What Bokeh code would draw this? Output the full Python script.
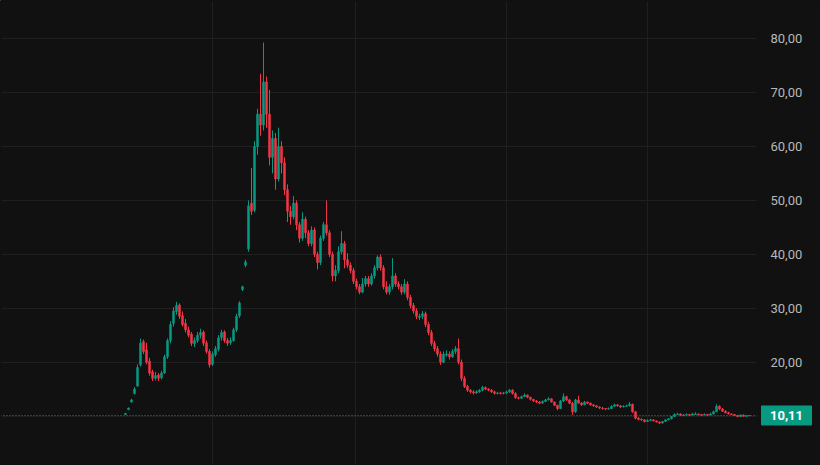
from bokeh.plotting import figure
from bokeh.models import (Range1d, FixedTicker, CustomJSTickFormatter, Span,
                          Grid, ColumnDataSource)
from bokeh.core.properties import value
from bokeh.embed import file_html
from bokeh.resources import INLINE

opens = [10.3, 11.2, 12.6, 14.2, 15.6, 19.5, 23.8, 22.3, 20.2, 18.2,
         17.0, 17.6, 17.1, 18.0, 21.0, 24.0, 27.2, 29.4, 30.6, 28.6,
         27.2, 26.0, 25.2, 23.4, 24.0, 25.0, 25.6, 23.6, 22.0, 19.6,
         21.4, 22.4, 24.6, 25.6, 24.0, 23.6, 24.0, 26.0, 28.6, 33.5,
         38.0, 41.0, 49.5, 48.2, 60.0, 66.0, 64.0, 72.0, 66.0, 58.0,
         61.5, 54.0, 60.0, 57.0, 52.0, 48.0, 47.0, 49.5, 45.5, 43.0,
         46.5, 44.0, 42.0, 44.5, 40.0, 38.5, 43.0, 45.5, 44.0, 40.0,
         36.0, 37.0, 40.5, 42.0, 39.0, 38.0, 37.0, 35.0, 34.0, 33.0,
         34.5, 35.5, 34.5, 36.0, 37.5, 39.5, 37.5, 34.0, 33.0, 34.0,
         36.0, 34.5, 34.0, 33.0, 34.5, 32.0, 30.5, 29.5, 28.3, 28.5,
         29.0, 27.0, 25.5, 23.5, 22.5, 21.5, 20.0, 21.3, 21.5, 21.0,
         22.0, 22.5, 20.0, 17.0, 15.5, 14.8, 14.5, 14.3, 14.5, 14.8,
         15.3, 15.0, 14.8, 14.5, 14.2, 14.3, 14.2, 14.3, 14.5, 14.8,
         14.2, 13.4, 13.3, 13.6, 13.9, 13.5, 13.1, 12.8, 12.6, 12.4,
         12.7, 13.0, 13.2, 12.6, 12.0, 11.4, 12.8, 13.6, 13.0, 12.4,
         10.8, 13.0, 12.4, 12.1, 12.6, 12.4, 12.1, 11.9, 11.7, 11.5,
         11.4, 11.3, 11.4, 11.8, 12.1, 11.9, 11.7, 11.8, 11.9, 12.2,
         10.8, 9.6, 9.4, 9.3, 9.0, 9.2, 9.3, 9.1, 8.9, 8.7,
         9.0, 9.3, 9.5, 9.9, 10.3, 10.4, 10.1, 10.2, 10.3, 10.2,
         10.3, 10.4, 10.3, 10.2, 10.3, 10.2, 10.4, 10.8, 11.8, 11.3,
         10.9, 10.6, 10.4, 10.3, 10.1, 9.9, 10.2, 9.95, 10.05]

highs = [10.6, 11.6, 13.2, 15.4, 19.6, 24.4, 24.2, 23.6, 20.8, 18.6,
         18.2, 18.0, 18.4, 21.4, 24.4, 27.6, 30.2, 31.2, 30.9, 29.4,
         28.0, 26.6, 25.6, 24.6, 25.6, 26.2, 25.9, 24.0, 22.4, 22.0,
         23.0, 25.0, 26.0, 25.9, 24.5, 24.6, 26.4, 29.0, 31.3, 34.2,
         39.0, 50.0, 56.0, 61.0, 67.0, 73.5, 79.3, 73.0, 70.5, 63.0,
         62.5, 63.5, 61.0, 58.0, 53.0, 49.0, 50.8, 50.0, 46.0, 47.8,
         47.0, 44.5, 45.2, 45.0, 40.5, 43.5, 46.0, 50.0, 44.5, 40.5,
         38.0, 41.5, 44.3, 42.5, 40.2, 38.5, 37.5, 35.5, 34.5, 35.6,
         36.0, 36.0, 36.5, 38.0, 39.8, 40.0, 38.0, 35.0, 34.5, 39.3,
         36.5, 35.0, 34.5, 35.4, 35.0, 32.5, 31.0, 30.0, 29.0, 29.5,
         29.4, 27.5, 26.0, 24.0, 23.0, 22.0, 22.0, 22.2, 22.0, 22.4,
         23.0, 24.4, 20.5, 17.4, 15.8, 15.0, 14.8, 14.8, 15.0, 15.6,
         15.5, 15.2, 15.0, 14.7, 14.5, 14.5, 14.5, 14.7, 15.0, 15.0,
         14.4, 13.6, 13.8, 14.2, 14.0, 13.6, 13.2, 13.0, 12.8, 12.9,
         13.2, 13.5, 13.3, 12.7, 12.1, 13.0, 14.2, 13.8, 13.2, 12.6,
         13.2, 13.8, 12.6, 12.8, 12.7, 12.5, 12.2, 12.0, 11.8, 11.7,
         11.5, 11.6, 12.0, 12.3, 12.2, 12.0, 12.0, 12.1, 12.6, 12.3,
         10.9, 9.8, 9.6, 9.4, 9.4, 9.5, 9.4, 9.2, 9.0, 9.1,
         9.4, 9.6, 10.0, 10.5, 10.6, 10.5, 10.4, 10.5, 10.4, 10.6,
         10.7, 10.5, 10.4, 10.5, 10.4, 10.6, 11.0, 12.2, 12.0, 11.5,
         11.1, 10.8, 10.5, 10.4, 10.2, 10.3, 10.3, 10.2, 10.2]

lows = [10.2, 11.1, 12.5, 14.0, 15.4, 19.2, 21.5, 19.6, 17.5, 16.5,
        16.6, 16.5, 16.8, 17.8, 20.6, 23.5, 26.6, 28.8, 28.0, 26.6,
        25.5, 24.6, 23.0, 22.8, 23.6, 24.4, 23.0, 21.6, 19.0, 19.3,
        21.0, 22.0, 24.0, 23.6, 23.0, 23.2, 23.8, 25.6, 28.2, 33.2,
        37.6, 40.5, 47.3, 47.8, 58.5, 62.0, 63.0, 63.5, 56.5, 55.0,
        52.0, 53.5, 55.0, 51.0, 46.0, 45.5, 46.5, 44.5, 42.2, 42.5,
        43.0, 41.5, 41.5, 39.5, 37.2, 38.0, 42.5, 43.5, 39.5, 35.0,
        35.0, 36.5, 40.0, 37.4, 37.5, 36.5, 34.5, 33.5, 32.6, 32.8,
        34.0, 34.0, 34.2, 35.5, 37.0, 37.0, 33.5, 32.6, 32.5, 33.5,
        34.0, 33.5, 32.5, 32.6, 31.5, 30.0, 29.0, 28.0, 27.8, 28.0,
        26.5, 25.0, 23.0, 22.0, 21.0, 19.5, 19.8, 21.0, 20.5, 20.8,
        21.5, 19.6, 16.5, 15.2, 14.5, 14.2, 14.0, 14.1, 14.3, 14.6,
        14.8, 14.6, 14.3, 14.0, 14.0, 14.0, 14.0, 14.1, 14.3, 14.0,
        13.2, 13.1, 13.2, 13.5, 13.3, 12.9, 12.6, 12.4, 12.2, 12.3,
        12.6, 12.9, 12.5, 11.9, 11.1, 11.3, 12.6, 12.8, 12.2, 10.2,
        10.6, 12.3, 11.9, 12.0, 12.2, 11.9, 11.7, 11.5, 11.3, 11.2,
        11.1, 11.2, 11.3, 11.7, 11.7, 11.5, 11.6, 11.7, 11.8, 10.6,
        9.4, 9.2, 9.1, 8.8, 8.9, 9.1, 9.0, 8.8, 8.5, 8.6,
        8.9, 9.2, 9.4, 9.8, 10.2, 10.0, 10.0, 10.1, 10.0, 10.1,
        10.2, 10.1, 10.0, 10.1, 10.0, 10.1, 10.3, 10.7, 11.1, 10.8,
        10.5, 10.3, 10.2, 10.0, 9.8, 9.8, 9.9, 9.9, 10.0]

closes = [10.5, 11.5, 13.0, 15.0, 19.0, 23.5, 22.0, 20.0, 18.0, 17.0,
          17.5, 17.0, 18.0, 21.0, 24.0, 27.0, 29.5, 30.5, 28.5, 27.0,
          26.0, 25.0, 23.5, 24.0, 25.0, 25.5, 23.5, 22.0, 19.5, 21.5,
          22.5, 24.5, 25.5, 24.0, 23.5, 24.0, 26.0, 28.5, 31.0, 34.0,
          38.6, 49.0, 48.0, 60.0, 66.0, 64.0, 72.0, 66.0, 58.0, 61.5,
          54.0, 60.0, 57.0, 52.0, 48.0, 47.0, 49.5, 45.5, 43.0, 46.5,
          44.0, 42.0, 44.5, 40.0, 38.5, 43.0, 45.5, 44.0, 40.0, 36.0,
          37.0, 40.5, 42.0, 39.0, 38.0, 37.0, 35.0, 34.0, 33.0, 34.5,
          35.5, 34.5, 36.0, 37.5, 39.5, 37.5, 34.0, 33.0, 34.0, 36.0,
          34.5, 34.0, 33.0, 34.5, 32.0, 30.5, 29.5, 28.5, 28.5, 29.0,
          27.0, 25.5, 23.5, 22.5, 21.5, 20.0, 21.5, 21.5, 21.0, 22.0,
          22.5, 20.0, 17.0, 15.5, 14.8, 14.5, 14.3, 14.5, 14.8, 15.3,
          15.0, 14.8, 14.5, 14.2, 14.3, 14.2, 14.3, 14.5, 14.8, 14.2,
          13.4, 13.3, 13.6, 13.9, 13.5, 13.1, 12.8, 12.6, 12.4, 12.7,
          13.0, 13.2, 12.6, 12.0, 11.4, 12.8, 13.6, 13.0, 12.4, 10.8,
          13.0, 12.4, 12.1, 12.6, 12.4, 12.1, 11.9, 11.7, 11.5, 11.4,
          11.3, 11.4, 11.8, 12.1, 11.9, 11.7, 11.8, 11.9, 12.2, 10.8,
          9.6, 9.4, 9.3, 9.0, 9.2, 9.3, 9.1, 8.9, 8.7, 9.0,
          9.3, 9.5, 9.9, 10.3, 10.4, 10.2, 10.2, 10.3, 10.2, 10.4,
          10.4, 10.3, 10.2, 10.3, 10.2, 10.4, 10.8, 11.8, 11.3, 10.9,
          10.6, 10.4, 10.3, 10.1, 9.9, 10.2, 9.95, 10.05, 10.11]

y_ticks = [10, 20, 30, 40, 50, 60, 70, 80]
y_tick_labels = ["", "20,00", "30,00", "40,00", "50,00", "60,00", "70,00", "80,00"]
bottom_tick = 0
bottom_tick_label = "0,00"
x_grid_ticks = [29, 76.7, 127, 174]
last_price = 10.11
last_price_text = "10,11"

UP = "#089981"
DOWN = "#F23645"
BG = "#111111"
GRID = "#1f1f1f"
LABEL_COLOR = "#b8b8b8"

X_START, X_END = -41.67, 210.67
FRAME_W = 757
PX = FRAME_W / (X_END - X_START)          # pixels per candle slot
Y_START, Y_END = 0.83, 87.1
PY = 465 / (Y_END - Y_START)              # pixels per price unit
X_CANVAS_END = X_END + (820 - FRAME_W) / PX

n = len(closes)
idx = list(range(n))
colors = [UP if c >= o else DOWN for o, c in zip(opens, closes)]
tops = [max(o, c) for o, c in zip(opens, closes)]
bots = [min(o, c) for o, c in zip(opens, closes)]
src = ColumnDataSource(dict(x=idx, o=opens, h=highs, l=lows, c=closes,
                            top=tops, bot=bots, color=colors))

p = figure(width=820, height=465, output_backend="svg", toolbar_location=None,
           x_range=Range1d(X_START, X_END), y_range=Range1d(Y_START, Y_END),
           x_axis_location=None, y_axis_location="right",
           min_border_left=0, min_border_top=0, min_border_bottom=0,
           min_border_right=820 - FRAME_W)
p.background_fill_color = BG
p.border_fill_color = BG
p.outline_line_color = None

p.xgrid.visible = False
p.ygrid.grid_line_color = GRID
p.ygrid.ticker = FixedTicker(ticks=y_ticks)
p.add_layout(Grid(dimension=0, ticker=FixedTicker(ticks=x_grid_ticks),
                  grid_line_color=GRID))

ax = p.yaxis[0]
ax.ticker = FixedTicker(ticks=y_ticks)
ax.formatter = CustomJSTickFormatter(args=dict(tvals=y_ticks, tlabels=y_tick_labels),
                                     code="const i = tvals.indexOf(tick); return i >= 0 ? tlabels[i] : '';")
ax.axis_line_color = None
ax.major_tick_line_color = None
ax.minor_tick_line_color = None
ax.major_tick_out = 0
ax.major_tick_in = 0
ax.major_label_standoff = 13
ax.major_label_text_font = "Roboto"
ax.major_label_text_font_size = "13px"
ax.major_label_text_color = LABEL_COLOR

p.segment(x0="x", y0="l", x1="x", y1="h", color="color", line_width=1, source=src)
p.vbar(x="x", top="top", bottom="bot", width=0.7, fill_color="color",
       line_color="color", line_width=0.5, source=src)

p.add_layout(Span(location=last_price, dimension="width", line_color=UP,
                  line_dash="1 2", line_width=1))

# hide the thin light seams that the SVG backend leaves around the frame edges
p.segment(x0=[X_START, X_END, X_START, X_START],
          y0=[Y_START, Y_START, Y_END, Y_START],
          x1=[X_START, X_END, X_CANVAS_END, X_CANVAS_END],
          y1=[Y_END, Y_END, Y_END, Y_START],
          line_color=BG, line_width=2, level="overlay")

# last-price tag in the price-scale area (drawn unclipped at overlay level)
tag_left = X_END + 4 / PX
tag_right = X_END + 54 / PX
tag_half = 9.5 / PY
p.quad(left=[tag_left], right=[tag_right], bottom=[last_price - tag_half],
       top=[last_price + tag_half], fill_color=UP, line_color=UP, level="overlay")
p.text(x=[(tag_left + tag_right) / 2], y=[last_price], text=[last_price_text],
       text_color="white", text_font=value("Roboto"), text_font_size="13px",
       text_font_style="bold", text_align="center", text_baseline="middle",
       level="overlay")

# partially visible bottom price-scale label (cut by the window edge, as in the original)
p.text(x=[X_END + 13 / PX], y=[bottom_tick], text=[bottom_tick_label],
       text_color=LABEL_COLOR, text_font=value("Roboto"), text_font_size="13px",
       text_align="left", text_baseline="middle", level="overlay")

open("out.html", "w").write(file_html(p, INLINE))
